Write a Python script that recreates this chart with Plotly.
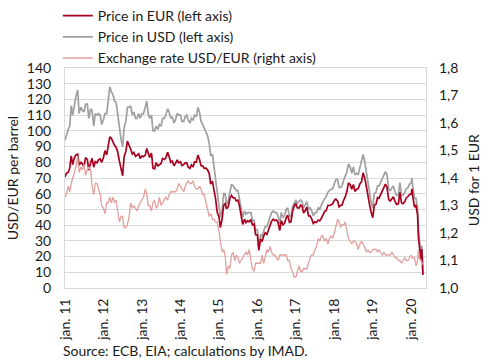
import plotly.graph_objects as go

# ---- categories (dates): semi-monthly 2011-2019, then 2020 observations ----
dates = [f"{y}-{m:02d}-{d:02d}" for y in range(2011, 2020) for m in range(1, 13) for d in (1, 15)]
dates += ["2020-01-01", "2020-01-08", "2020-01-15", "2020-02-01", "2020-02-15", "2020-03-01",
          "2020-03-09", "2020-03-16", "2020-04-01", "2020-04-10", "2020-04-21"]

# ---- Brent price in USD (left axis) ----
price_usd = [
    94, 98, 101, 103, 116, 110, 118, 122, 126, 111, 115, 113, 112, 117, 117, 108, 114, 113, 103, 111, 110, 111, 110, 104,
    107, 111, 111, 118, 128, 125, 123, 119, 118, 111, 100, 95, 90, 102, 106, 115, 115, 116, 110, 112, 108, 108, 111, 108,
    111, 111, 115, 119, 111, 108, 110, 100, 100, 103, 101, 104, 103, 108, 108, 110, 114, 112, 108, 109, 105, 107, 111, 110,
    110, 106, 106, 109, 110, 107, 105, 108, 107, 110, 109, 115, 112, 106, 104, 102, 100, 97, 92, 84, 85, 78, 70, 60,
    55, 45, 50, 60, 60, 53, 56, 61, 66, 65, 63, 62, 62, 57, 50, 45, 49, 47, 48, 48, 48, 43, 43, 37,
    37, 26, 34, 33, 36, 39, 39, 42, 46, 48, 49, 48, 48, 46, 41, 48, 45, 46, 50, 51, 46, 45, 52, 54,
    56, 54, 55, 56, 55, 51, 53, 55, 50, 51, 49, 46, 48, 48, 51, 50, 53, 55, 57, 58, 61, 62, 63, 63,
    67, 69, 69, 64, 64, 65, 69, 72, 74, 79, 77, 73, 77, 72, 73, 72, 77, 79, 85, 81, 73, 66, 60, 55,
    51, 60, 61, 65, 65, 67, 69, 72, 74, 72, 63, 62, 64, 65, 61, 59, 59, 67, 59, 59, 61, 63, 64, 66,
    67, 70, 65, 57, 57, 51, 37, 30, 20, 27, 9,
]

# ---- Brent price in EUR (left axis) ----
price_eur = [
    70.7, 73.1, 73.7, 76.3, 84.1, 78.6, 83.1, 84.7, 85.1, 78.2, 79.9, 79.0, 77.2, 83.0, 81.8, 75.0, 79.7, 82.5, 76.9, 80.4, 79.7, 81.6, 82.1, 80.0,
    82.9, 87.4, 84.7, 90.1, 96.2, 95.4, 92.5, 90.8, 89.4, 86.7, 80.6, 75.4, 71.4, 83.6, 86.9, 93.5, 91.3, 88.5, 85.3, 86.2, 83.7, 84.4, 85.4, 82.4,
    84.1, 83.5, 84.6, 88.8, 85.4, 83.1, 85.9, 76.3, 75.8, 79.8, 77.7, 78.2, 79.2, 82.4, 81.8, 82.7, 86.4, 83.6, 80.0, 80.7, 77.8, 79.3, 81.6, 79.7,
    80.3, 77.9, 78.5, 79.6, 79.7, 77.0, 76.1, 78.3, 77.0, 80.3, 80.1, 84.6, 81.8, 77.9, 77.6, 76.1, 76.3, 75.2, 73.0, 66.1, 68.0, 62.4, 56.5, 48.4,
    45.5, 38.5, 44.2, 52.6, 53.6, 50.5, 51.9, 57.0, 58.9, 57.5, 57.3, 55.4, 55.9, 52.3, 45.5, 40.5, 43.8, 41.6, 42.9, 42.1, 43.6, 40.2, 40.6, 33.9,
    33.9, 23.9, 31.2, 29.5, 33.0, 35.1, 34.2, 37.2, 40.0, 42.5, 43.8, 42.9, 43.2, 41.8, 36.6, 42.9, 40.2, 41.1, 44.6, 46.4, 41.8, 42.1, 49.1, 51.9,
    53.8, 50.9, 50.9, 52.8, 51.9, 47.7, 49.5, 51.4, 45.9, 45.9, 43.8, 41.1, 42.1, 41.7, 43.2, 42.7, 44.5, 46.2, 48.7, 49.2, 52.6, 52.5, 52.9, 53.4,
    55.8, 56.6, 55.2, 51.6, 52.5, 52.8, 56.1, 58.1, 61.7, 66.9, 65.8, 62.9, 65.8, 61.5, 62.9, 63.2, 66.4, 67.5, 73.3, 70.4, 64.6, 57.9, 53.1, 48.7,
    44.7, 52.6, 53.5, 57.5, 57.0, 59.3, 61.6, 63.7, 66.1, 64.3, 56.3, 55.4, 56.6, 58.0, 55.0, 53.2, 53.6, 60.9, 54.1, 53.6, 55.0, 57.3, 58.2, 59.5,
    59.8, 63.1, 58.6, 51.4, 52.8, 46.4, 32.5, 27.0, 18.2, 24.8, 8.3,
]

# ---- Exchange rate USD/EUR (right axis) ----
usd_per_eur = [
    1.33, 1.34, 1.37, 1.35, 1.38, 1.40, 1.42, 1.44, 1.48, 1.42, 1.44, 1.43, 1.45, 1.41, 1.43, 1.44, 1.43, 1.37, 1.34, 1.38, 1.38, 1.36, 1.34, 1.30,
    1.29, 1.27, 1.31, 1.31, 1.33, 1.31, 1.33, 1.31, 1.32, 1.28, 1.24, 1.26, 1.26, 1.22, 1.22, 1.23, 1.26, 1.31, 1.29, 1.30, 1.29, 1.28, 1.30, 1.31,
    1.32, 1.33, 1.36, 1.34, 1.30, 1.30, 1.28, 1.31, 1.32, 1.29, 1.30, 1.33, 1.30, 1.31, 1.32, 1.33, 1.32, 1.34, 1.35, 1.35, 1.35, 1.35, 1.36, 1.38,
    1.37, 1.36, 1.35, 1.37, 1.38, 1.39, 1.38, 1.38, 1.39, 1.37, 1.36, 1.36, 1.37, 1.36, 1.34, 1.34, 1.31, 1.29, 1.26, 1.27, 1.25, 1.25, 1.24, 1.24,
    1.21, 1.17, 1.13, 1.14, 1.12, 1.05, 1.08, 1.07, 1.12, 1.13, 1.10, 1.12, 1.11, 1.09, 1.10, 1.11, 1.12, 1.13, 1.12, 1.14, 1.10, 1.07, 1.06, 1.09,
    1.09, 1.09, 1.09, 1.12, 1.09, 1.11, 1.14, 1.13, 1.15, 1.13, 1.12, 1.12, 1.11, 1.10, 1.12, 1.12, 1.12, 1.12, 1.12, 1.10, 1.10, 1.07, 1.06, 1.04,
    1.04, 1.06, 1.08, 1.06, 1.06, 1.07, 1.07, 1.07, 1.09, 1.11, 1.12, 1.12, 1.14, 1.15, 1.18, 1.17, 1.19, 1.19, 1.17, 1.18, 1.16, 1.18, 1.19, 1.18,
    1.20, 1.22, 1.25, 1.24, 1.22, 1.23, 1.23, 1.24, 1.20, 1.18, 1.17, 1.16, 1.17, 1.17, 1.16, 1.14, 1.16, 1.17, 1.16, 1.15, 1.13, 1.14, 1.13, 1.13,
    1.14, 1.14, 1.14, 1.13, 1.14, 1.13, 1.12, 1.13, 1.12, 1.12, 1.12, 1.12, 1.13, 1.12, 1.11, 1.11, 1.10, 1.10, 1.09, 1.10, 1.11, 1.10, 1.10, 1.11,
    1.12, 1.11, 1.11, 1.11, 1.08, 1.10, 1.14, 1.11, 1.10, 1.09, 1.085,
]

# ---- tick labels ----
x_tickvals = [f"{y}-01-01" for y in range(2011, 2021)]
x_ticktext = [f"jan. {y % 100}" for y in range(2011, 2021)]
y2_tickvals = [1.0, 1.1, 1.2, 1.3, 1.4, 1.5, 1.6, 1.7, 1.8]
y2_ticktext = ["1,0", "1,1", "1,2", "1,3", "1,4", "1,5", "1,6", "1,7", "1,8"]

FONT = "Lato, 'Open Sans', 'DejaVu Sans', sans-serif"
GRID = "#d9d9d9"

fig = go.Figure()
fig.add_trace(go.Scatter(x=dates, y=usd_per_eur, name="Exchange rate USD/EUR (right axis)", yaxis="y2",
                         mode="lines", line=dict(color="#e2a09e", width=1.3), legendrank=3))
fig.add_trace(go.Scatter(x=dates, y=price_usd, name="Price in USD (left axis)",
                         mode="lines", line=dict(color="#a0a0a0", width=1.7), legendrank=2))
fig.add_trace(go.Scatter(x=dates, y=price_eur, name="Price in EUR (left axis)",
                         mode="lines", line=dict(color="#a8001f", width=1.7), legendrank=1))

fig.update_layout(
    width=490, height=363,
    margin=dict(l=65, r=64, t=68, b=75, autoexpand=False),
    paper_bgcolor="white", plot_bgcolor="white",
    font=dict(family=FONT, size=14, color="#1a1a1a"),
    showlegend=True,
    legend=dict(xref="container", yref="container", x=0.118, y=1.0, xanchor="left", yanchor="top",
                bgcolor="rgba(0,0,0,0)", font=dict(size=14), tracegroupgap=0, itemwidth=30),
    xaxis=dict(type="date", range=["2011-01-01", "2020-05-20"], tickvals=x_tickvals, ticktext=x_ticktext,
               tickangle=-90, showgrid=False, showline=True, linecolor=GRID, mirror=True,
               ticks="", zeroline=False, ticklabelstandoff=4),
    yaxis=dict(range=[0, 140], dtick=10, showgrid=True, gridcolor=GRID, gridwidth=1,
               showline=True, linecolor=GRID, mirror=True, zeroline=False, ticks="",
               ticklabelstandoff=10),
    yaxis2=dict(overlaying="y", side="right", range=[1.0, 1.8], tickvals=y2_tickvals, ticktext=y2_ticktext,
                showgrid=False, zeroline=False, showline=False, ticks="", ticklabelstandoff=12),
)

# axis titles
fig.add_annotation(text="USD/EUR per barrel", xref="paper", yref="paper", x=-0.146, y=0.5,
                   xanchor="center", yanchor="middle", textangle=-90, showarrow=False, font=dict(size=14))
fig.add_annotation(text="USD for 1 EUR", xref="paper", yref="paper", x=1.13, y=0.49,
                   xanchor="center", yanchor="middle", textangle=-90, showarrow=False, font=dict(size=14))

fig.add_annotation(text="Source: ECB, EIA; calculations by IMAD.", xref="paper", yref="paper",
                   x=-0.01, y=-0.282, xanchor="left", yanchor="middle", showarrow=False,
                   font=dict(size=14))

fig.write_html("out.html", config={"displayModeBar": False},
               post_script="document.body.style.margin='0';document.body.style.overflow='hidden';")
